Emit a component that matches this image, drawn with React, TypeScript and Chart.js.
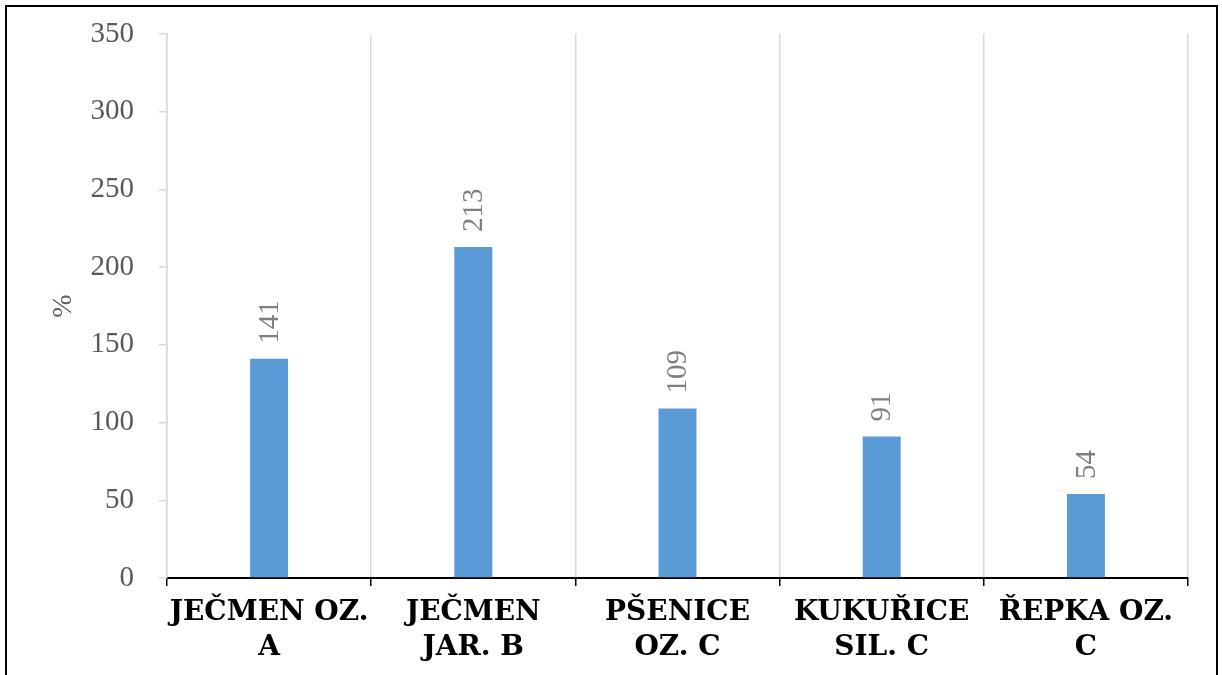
import React, { useEffect, useRef } from "react";
import { Chart, registerables } from "chart.js";

Chart.register(...registerables);

const categories: string[][] = [
  ["JEČMEN OZ.", "A"],
  ["JEČMEN", "JAR. B"],
  ["PŠENICE", "OZ. C"],
  ["KUKUŘICE", "SIL. C"],
  ["ŘEPKA OZ.", "C"],
];
const values: number[] = [141, 213, 109, 91, 54];
const yMin = 0;
const yMax = 350;
const yStep = 50;
const yTitle = "%";

const barLabelPlugin = {
  id: "barLabels",
  afterDatasetsDraw(chart: any) {
    const ctx = chart.ctx;
    const meta = chart.getDatasetMeta(0);
    ctx.save();
    ctx.font = "29px 'Liberation Serif', serif";
    ctx.fillStyle = "#7f7f7f";
    ctx.textAlign = "left";
    ctx.textBaseline = "middle";
    meta.data.forEach((bar: any, i: number) => {
      ctx.save();
      ctx.translate(bar.x, bar.y - 15);
      ctx.rotate(-Math.PI / 2);
      ctx.fillText(String(values[i]), 0, 1);
      ctx.restore();
    });
    ctx.restore();
  },
};

export default function App() {
  const ref = useRef<HTMLCanvasElement | null>(null);
  useEffect(() => {
    if (!ref.current) return;
    const chart = new Chart(ref.current, {
      type: "bar",
      data: {
        labels: categories,
        datasets: [
          {
            data: values,
            backgroundColor: "#5b9bd5",
            barPercentage: 0.186,
            categoryPercentage: 1,
          },
        ],
      },
      options: {
        animation: false,
        responsive: false,
        maintainAspectRatio: false,
        layout: { padding: { left: 7, right: 34, top: 34, bottom: 0 } },
        plugins: { legend: { display: false }, tooltip: { enabled: false } },
        scales: {
          x: {
            grid: {
              color: "#d9d9d9",
              tickColor: "#000000",
              tickLength: 8,
              lineWidth: 1.5,
              tickWidth: 1.5,
            },
            border: { color: "#000000", width: 2 },
            ticks: {
              maxRotation: 0,
              minRotation: 0,
              autoSkip: false,
              padding: 9,
              color: "#000000",
              font: { family: "'DejaVu Serif', serif", size: 28, weight: "bold", lineHeight: 1.25 },
            },
            afterFit(scale: any) {
              scale.height = 97;
              scale.paddingLeft = 0;
              scale.paddingRight = 0;
            },
          },
          y: {
            min: yMin,
            max: yMax,
            grid: {
              drawOnChartArea: false,
              drawTicks: true,
              tickLength: 8,
              color: "#d9d9d9",
              lineWidth: 1.5,
            },
            border: { color: "#d9d9d9", width: 1.5 },
            ticks: {
              stepSize: yStep,
              padding: 25,
              color: "#595959",
              font: { family: "'Liberation Serif', serif", size: 29 },
            },
            title: {
              display: true,
              text: yTitle,
              color: "#595959",
              font: { family: "'Liberation Serif', serif", size: 28 },
              padding: { top: 40, bottom: 0 },
            },
            afterFit(scale: any) {
              scale.width = 160;
              scale.paddingTop = 0;
              scale.paddingBottom = 0;
            },
          },
        },
      },
      plugins: [barLabelPlugin],
    });
    return () => chart.destroy();
  }, []);

  return (
    <div>
      <div
        style={{
          position: "fixed",
          left: 5,
          top: 5,
          width: 1213,
          height: 690,
          border: "2px solid #000",
          boxSizing: "border-box",
          background: "#fff",
        }}
      />
      <canvas
        ref={ref}
        width={1222}
        height={675}
        style={{ position: "fixed", left: 0, top: 0, width: 1222, height: 675 }}
      />
    </div>
  );
}
